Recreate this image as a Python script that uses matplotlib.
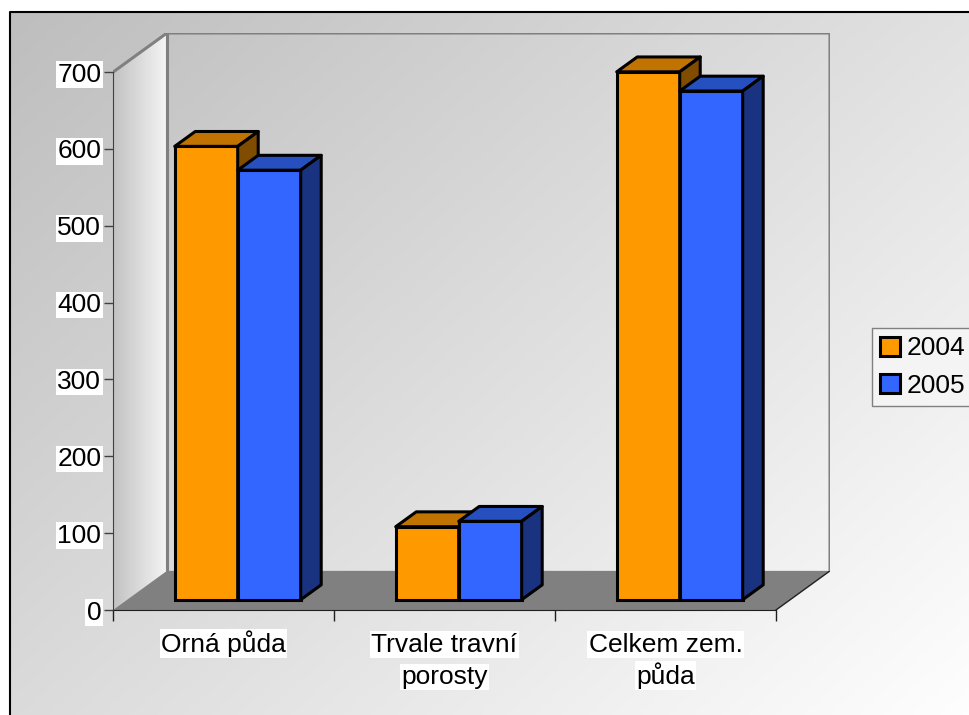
import numpy as np
import matplotlib.pyplot as plt
from matplotlib.patches import Polygon, Rectangle
from matplotlib.colors import LinearSegmentedColormap

categories = ["Orná půda", "Trvale travní\nporosty", "Celkem zem.\npůda"]
years = ["2004", "2005"]
values_2004 = [590, 95, 687]
values_2005 = [559, 102, 662]
yticks = [0, 100, 200, 300, 400, 500, 600, 700]

front_col = ["#FF9900", "#3366FF"]
top_col = ["#C07300", "#2650C0"]
side_col = ["#7F4C00", "#1A3380"]

plt.rcParams['font.family'] = ['Liberation Sans', 'DejaVu Sans']

W, H = 970, 715
fig = plt.figure(figsize=(W / 100, H / 100), dpi=100)

# background gradient + border
bg = fig.add_axes([0, 0, 1, 1], zorder=-10)
xx, yy = np.meshgrid(np.linspace(0, 1, 300), np.linspace(0, 1, 300))
g = 0.55 * xx + 0.45 * yy
bg.imshow(g, cmap=LinearSegmentedColormap.from_list('g', ['#bdbdbd', '#fefefe']),
          extent=[0, 1, 0, 1], origin='upper', aspect='auto')
bx, by = 10 / W, 1 - 12 / H
bg.add_patch(Rectangle((0, 0), bx, 1, fc='white', ec='none'))
bg.add_patch(Rectangle((0, by), 1, 1 - by, fc='white', ec='none'))
bg.plot([bx, bx, 1], [0, by, by], color='black', lw=1.5)
bg.set_xlim(0, 1)
bg.set_ylim(0, 1)
bg.axis('off')

# main axes: front plane x 0..3 -> px 113..776, y 0..700 -> px 610..74
x_px, y_px = 221.0, 536 / 700
DX = 54 / x_px
DY = 39 / y_px
ax = fig.add_axes([113 / W, (H - 610) / H, 717 / W, 577 / H])
ax.patch.set_alpha(0)

# side wall with gradient (dark at front edge, light at back)
side_wall = Polygon([(0, 0), (DX, DY), (DX, 700 + DY), (0, 700)], closed=True,
                    fc='none', ec='none')
ax.add_patch(side_wall)
sg = np.tile(np.linspace(0, 1, 100), (10, 1))
im = ax.imshow(sg, cmap=LinearSegmentedColormap.from_list('s', ['#c2c2c2', '#f4f4f4']),
               extent=[0, DX, 0, 700 + DY], aspect='auto', zorder=0.5)
im.set_clip_path(side_wall)

# floor
ax.add_patch(Polygon([(0, 0), (3, 0), (3 + DX, DY), (DX, DY)], closed=True,
                     fc='#808080', ec='none', zorder=1))
ax.plot([3, 3 + DX], [0, DY], color='#202020', lw=1, zorder=1.1)

# wall edges
wall = dict(color='#808080', lw=2.2, zorder=1.2, solid_capstyle='butt')
ax.plot([0, DX, 3 + DX, 3 + DX], [700, 700 + DY, 700 + DY, DY], **wall)
ax.plot([DX, DX], [DY, 700 + DY], **wall)
ax.set_xlim(0, 3 + DX)
ax.set_ylim(0, 700 + DY)

# bars
w = 0.285
f0 = 0.263
d = 0.38
y0 = f0 * DY
for j, vals in enumerate([values_2004, values_2005]):
    zo = 3 + j
    xs = [i + 0.5 + (j - 1) * w + f0 * DX for i in range(len(categories))]
    ax.bar(xs, vals, width=w, bottom=y0, align='edge', color=front_col[j],
           edgecolor='black', lw=2.2, zorder=zo, label=years[j])
    for x0, v in zip(xs, vals):
        top = [(x0, y0 + v), (x0 + w, y0 + v), (x0 + w + d * DX, y0 + v + d * DY),
               (x0 + d * DX, y0 + v + d * DY)]
        side = [(x0 + w, y0), (x0 + w, y0 + v), (x0 + w + d * DX, y0 + v + d * DY),
                (x0 + w + d * DX, y0 + d * DY)]
        ax.add_patch(Polygon(top, closed=True, fc=top_col[j], ec='black', lw=2.2,
                             joinstyle='round', zorder=zo))
        ax.add_patch(Polygon(side, closed=True, fc=side_col[j], ec='black', lw=2.2,
                             joinstyle='round', zorder=zo))

# axes
for s in ['top', 'right']:
    ax.spines[s].set_visible(False)
ax.spines['left'].set_bounds(0, 700)
ax.spines['left'].set_color('#404040')
ax.spines['bottom'].set_bounds(0, 3)
ax.spines['bottom'].set_color('#202020')
ax.spines['left'].set_zorder(1.3)
ax.spines['bottom'].set_zorder(1.3)
ax.set_yticks(yticks)
ax.set_yticklabels([str(t) for t in yticks])
ax.tick_params(axis='y', length=6.5, width=1, color='#404040', pad=2, labelsize=19)
for lab in ax.get_yticklabels():
    lab.set_bbox(dict(fc='white', ec='none', pad=1))
ax.set_xticks([0, 1, 2, 3])
ax.set_xticklabels([])
ax.tick_params(axis='x', length=8, width=1, color='#202020')

for i, cat in enumerate(categories):
    for k, line in enumerate(cat.split('\n')):
        ax.annotate(line, xy=(i + 0.5, 0), xycoords='data',
                    xytext=(0, -30 - k * 23.3), textcoords='offset points',
                    ha='center', va='baseline', fontsize=19,
                    bbox=dict(fc='white', ec='none', pad=1))

fig.legend(loc='center left', bbox_to_anchor=(872 / W, 1 - 367 / H),
           fontsize=19, frameon=True, fancybox=False, edgecolor='#808080',
           facecolor='#f4f4f4', framealpha=1, handlelength=0.75, handleheight=0.75,
           handletextpad=0.25, borderpad=0.3, labelspacing=0.5, borderaxespad=0)

fig.savefig('out.png', dpi=100)
